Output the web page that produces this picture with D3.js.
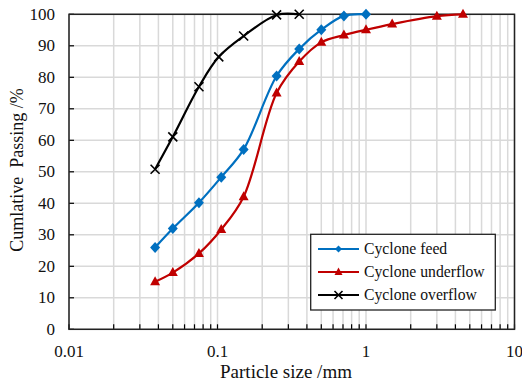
<!DOCTYPE html>
<html><head><meta charset="utf-8">
<script src="https://cdn.jsdelivr.net/npm/d3@7"></script>
<style>body{margin:0;background:#fff}svg{display:block}text{font-family:"Liberation Serif","Times New Roman",serif}</style>
</head><body>
<svg id="c" width="522" height="382"></svg>
<script>
const feedX = [0.038, 0.05, 0.075, 0.106, 0.15, 0.25, 0.355, 0.5, 0.71, 1.0];
const feedY = [26, 32, 40.2, 48.3, 57.1, 80.4, 89, 95.1, 99.5, 100];
const underX = [0.038, 0.05, 0.075, 0.106, 0.15, 0.25, 0.355, 0.5, 0.71, 1.0, 1.5, 3.0, 4.5];
const underY = [15.1, 18, 24.1, 31.7, 42.1, 75, 85, 91.1, 93.4, 95.1, 96.9, 99.4, 100];
const overX = [0.038, 0.05, 0.075, 0.102, 0.15, 0.25, 0.355];
const overY = [50.8, 61.1, 77, 86.5, 93.1, 99.8, 100];
const xTicks = [0.01, 0.1, 1, 10];
const yTicks = [0,10,20,30,40,50,60,70,80,90,100];
const seriesNames = ["Cyclone feed", "Cyclone underflow", "Cyclone overflow"];

const L=69, R=514.5, T=14.3, B=329.3;
const svg = d3.select("#c");
const x = d3.scaleLog().domain([0.01,10]).range([L,R]);
const y = d3.scaleLinear().domain([0,100]).range([B,T]);

const minor = [];
[0.01,0.1,1].forEach(d=>{for(let k=1;k<=9;k++) minor.push(d*k);});
minor.push(10);

const g = svg.append("g");
g.selectAll(".vg").data(minor).join("line")
 .attr("x1",d=>x(d)).attr("x2",d=>x(d)).attr("y1",T).attr("y2",B)
 .attr("stroke","#d9d9d9").attr("stroke-width",1.5);
g.selectAll(".hg").data(yTicks).join("line")
 .attr("x1",L).attr("x2",R).attr("y1",d=>y(d)).attr("y2",d=>y(d))
 .attr("stroke","#d9d9d9").attr("stroke-width",1.5);

// bottom ticks
g.selectAll(".bt").data(minor).join("line")
 .attr("x1",d=>x(d)).attr("x2",d=>x(d)).attr("y1",B).attr("y2",B-5)
 .attr("stroke","#000").attr("stroke-width",1.2);
// left ticks
g.selectAll(".lt").data(yTicks).join("line")
 .attr("x1",L).attr("x2",L+5).attr("y1",d=>y(d)).attr("y2",d=>y(d))
 .attr("stroke","#000").attr("stroke-width",1.2);

g.append("rect").attr("x",L).attr("y",T).attr("width",R-L).attr("height",B-T)
 .attr("fill","none").attr("stroke","#222").attr("stroke-width",1.5);

// axis labels
g.selectAll(".xl").data(xTicks).join("text")
 .attr("x",d=>x(d)).attr("y",B+28).attr("text-anchor","middle")
 .attr("font-size",17).attr("fill","#111").text(d=>String(d));
g.selectAll(".yl").data(yTicks).join("text")
 .attr("x",L-14).attr("y",d=>y(d)+5.5).attr("text-anchor","end")
 .attr("font-size",17).attr("fill","#111").text(d=>d);

svg.append("text").attr("x",286).attr("y",378).attr("text-anchor","middle")
 .attr("font-size",19).attr("fill","#111").text("Particle size /mm");
svg.append("text").attr("transform","translate(23,170) rotate(-90)").attr("text-anchor","middle")
 .attr("font-size",18).attr("fill","#111").attr("xml:space","preserve").text("Cumlative  Passing /%");

const line = d3.line().x(d=>x(d[0])).y(d=>y(d[1])).curve(d3.curveCatmullRom.alpha(0.5));
const series = [
 {name:seriesNames[0], xs:feedX, ys:feedY, color:"#0070C0", m:"diamond"},
 {name:seriesNames[1], xs:underX, ys:underY, color:"#C00000", m:"triangle"},
 {name:seriesNames[2], xs:overX, ys:overY, color:"#000", m:"cross"}
];
function marker(sel, type, color){
  if(type==="diamond") sel.append("path").attr("d","M0,-5.5L5,0L0,5.5L-5,0Z").attr("fill",color);
  else if(type==="triangle") sel.append("path").attr("d","M0,-5.5L5,3.5L-5,3.5Z").attr("fill",color);
  else sel.append("path").attr("d","M-4.5,-4.5L4.5,4.5M-4.5,4.5L4.5,-4.5").attr("stroke",color).attr("stroke-width",1.6).attr("fill","none");
}
series.forEach(s=>{
  const pts = s.xs.map((v,i)=>[v,s.ys[i]]);
  svg.append("path").datum(pts).attr("d",line).attr("fill","none").attr("stroke",s.color).attr("stroke-width",2.2);
  pts.forEach(p=>{
    const mg = svg.append("g").attr("transform",`translate(${x(p[0])},${y(p[1])})`);
    marker(mg,s.m,s.color);
  });
});

// legend
const lg = svg.append("g");
lg.append("rect").attr("x",310.7).attr("y",234.3).attr("width",184.6).attr("height",75.7)
 .attr("fill","#fff").attr("stroke","#222").attr("stroke-width",1.3);
series.forEach((s,i)=>{
  const yy = 249 + i*23;
  lg.append("line").attr("x1",318).attr("x2",359).attr("y1",yy).attr("y2",yy).attr("stroke",s.color).attr("stroke-width",2.2);
  const mg = lg.append("g").attr("transform",`translate(338.5,${yy})`);
  if(s.m==="diamond") mg.append("path").attr("d","M0,-3.5L3.5,0L0,3.5L-3.5,0Z").attr("fill",s.color);
  else if(s.m==="triangle") mg.append("path").attr("d","M0,-4.5L4,3L-4,3Z").attr("fill",s.color);
  else mg.append("path").attr("d","M-4,-4L4,4M-4,4L4,-4").attr("stroke",s.color).attr("stroke-width",1.6);
  lg.append("text").attr("x",364).attr("y",yy+5).attr("font-size",15.7).attr("fill","#111").text(s.name);
});
</script>
</body></html>
